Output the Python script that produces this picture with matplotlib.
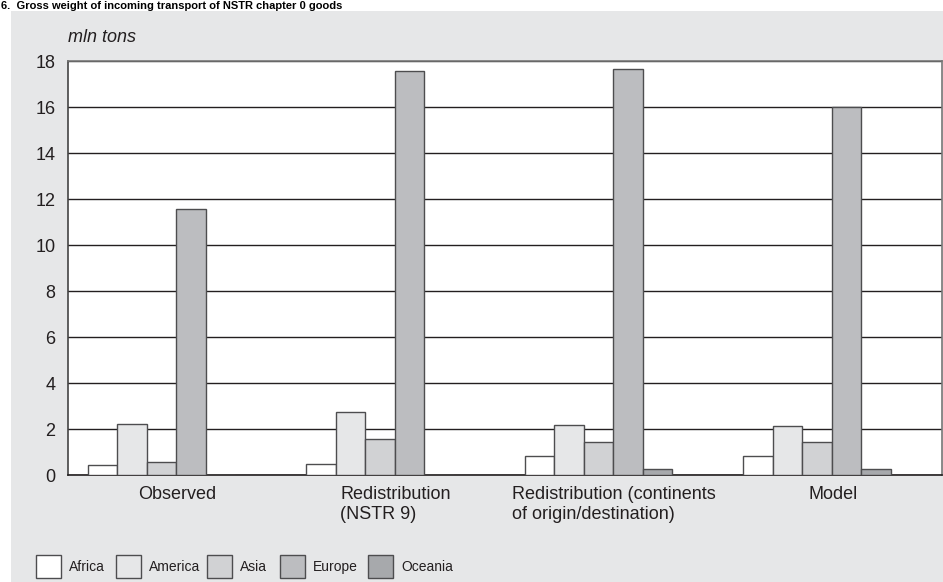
import numpy as np
import matplotlib.pyplot as plt
from matplotlib.patches import Rectangle

plt.rcParams['font.family'] = ['Liberation Sans', 'DejaVu Sans']

categories = ['Observed', 'Redistribution\n(NSTR 9)',
              'Redistribution (continents\nof origin/destination)', 'Model']
regions = ['Africa', 'America', 'Asia', 'Europe', 'Oceania']
africa = [0.43, 0.48, 0.85, 0.84]
america = [2.24, 2.74, 2.19, 2.16]
asia = [0.56, 1.58, 1.46, 1.46]
europe = [11.58, 17.58, 17.66, 16.0]
oceania = [0.03, 0.03, 0.29, 0.27]

series = [africa, america, asia, europe, oceania]
colors = ['#ffffff', '#e6e7e8', '#d1d2d4', '#bcbdc0', '#a7a9ac']

W, H = 943, 582
fig = plt.figure(figsize=(W / 100, H / 100), dpi=100)
fig.patch.set_facecolor('white')

# grey panel behind the chart
fig.patches.append(Rectangle((11 / W, 0), 1 - 11 / W, 1 - 11 / H,
                             transform=fig.transFigure, facecolor='#e6e7e8',
                             edgecolor='none', zorder=-10))

fig.text(1 / W, 1 - 1 / H, '6.  Gross weight of incoming transport of NSTR chapter 0 goods',
         fontsize=8, fontweight='bold', ha='left', va='top', zorder=5)

ax = fig.add_axes([68 / W, (H - 475.3) / H, (942 - 68) / W, (475.3 - 61.3) / H])
ax.set_facecolor('white')

x = np.arange(len(categories))
bw = 0.135
for k, (vals, c) in enumerate(zip(series, colors)):
    ax.bar(x - 0.4085 + k * bw, vals, width=bw, align='edge', color=c,
           edgecolor='#4d4d4f', linewidth=1, zorder=3, label=regions[k])

ax.set_xlim(-0.5, len(categories) - 0.5)
ax.set_ylim(0, 18)
ax.set_yticks(np.arange(0, 19, 2))
ax.yaxis.grid(True, color='#231f20', linewidth=1)
ax.set_axisbelow(True)
ax.set_xticks(x)
ax.set_xticklabels(categories, multialignment='left')
ax.tick_params(axis='both', length=0, labelsize=13, colors='#231f20')
ax.tick_params(axis='y', pad=9)
ax.tick_params(axis='x', pad=8)

ax.spines['left'].set_color('#444444')
ax.spines['bottom'].set_color('#231f20')
ax.spines['top'].set_color('#777777')
ax.spines['right'].set_color('#777777')
for s in ax.spines.values():
    s.set_linewidth(1.2)

fig.text(68 / W, 1 - 38 / H, 'mln tons', fontsize=13, fontstyle='italic',
         ha='left', va='center', color='#231f20')

# legend drawn by hand so the entries sit where the reference puts them
box_x = [36, 116, 207, 280, 368]
for bx, c, r in zip(box_x, colors, regions):
    fig.patches.append(Rectangle((bx / W, (H - 578) / H), 25 / W, 23 / H,
                                 transform=fig.transFigure, facecolor=c,
                                 edgecolor='#4d4d4f', linewidth=1))
    fig.text((bx + 33) / W, (H - 567) / H, r, fontsize=10, ha='left',
             va='center', color='#231f20')

fig.savefig('out.png', dpi=100)
